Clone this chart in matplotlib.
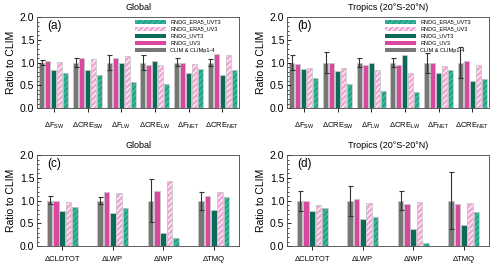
import matplotlib
matplotlib.use('Agg')
import matplotlib.pyplot as plt
from matplotlib.patches import Patch
from matplotlib.ticker import MultipleLocator
import numpy as np

plt.rcParams['font.family'] = ['Liberation Sans', 'DejaVu Sans']
plt.rcParams['mathtext.fontset'] = 'custom'
plt.rcParams['mathtext.rm'] = 'Liberation Sans'
plt.rcParams['hatch.linewidth'] = 0.8

# ---- data ----
labels_top = [r'$\Delta$F$_\mathrm{SW}$', r'$\Delta$CRE$_\mathrm{SW}$', r'$\Delta$F$_\mathrm{LW}$',
              r'$\Delta$CRE$_\mathrm{LW}$', r'$\Delta$F$_\mathrm{NET}$', r'$\Delta$CRE$_\mathrm{NET}$']
labels_bot = ['ΔCLDTOT', 'ΔLWP', 'ΔIWP', 'ΔTMQ']

# panel a (Global, fluxes)
a_clim = [1.0, 1.0, 1.0, 1.0, 1.0, 1.0]
a_hi = [1.06, 1.10, 1.17, 1.17, 1.10, 1.09]
a_lo = [0.95, 0.90, 0.83, 0.83, 0.92, 0.92]
a_uv3 = [1.03, 1.10, 1.10, 0.94, 1.00, 1.20]
a_uvt3 = [0.83, 0.84, 0.99, 1.03, 0.77, 0.72]
a_era_uv3 = [1.02, 1.09, 1.14, 0.94, 0.97, 1.17]
a_era_uvt3 = [0.78, 0.72, 0.57, 0.54, 0.86, 0.83]

# panel b (Tropics, fluxes)
b_clim = [1.0, 1.0, 1.0, 1.0, 1.0, 1.0]
b_hi = [1.17, 1.23, 1.10, 1.10, 1.22, 1.34]
b_lo = [0.83, 0.77, 0.90, 0.90, 0.78, 0.66]
b_uv3 = [0.97, 0.99, 0.94, 0.94, 0.99, 1.03]
b_uvt3 = [0.85, 0.82, 0.99, 1.17, 0.77, 0.60]
b_era_uv3 = [0.89, 0.88, 0.84, 0.78, 0.92, 0.94]
b_era_uvt3 = [0.67, 0.53, 0.37, 0.36, 0.84, 0.63]

# panel c (Global, cloud/water)
c_clim = [1.0, 1.0, 1.0, 1.0]
c_hi = [1.10, 1.09, 1.47, 1.20]
c_lo = [0.92, 0.92, 0.53, 0.80]
c_uv3 = [1.00, 1.19, 1.22, 1.10]
c_uvt3 = [0.77, 0.72, 0.30, 0.79]
c_era_uv3 = [0.96, 1.17, 1.43, 1.19]
c_era_uvt3 = [0.86, 0.83, 0.18, 1.07]

# panel d (Tropics, cloud/water)
d_clim = [1.0, 1.0, 1.0, 1.0]
d_hi = [1.22, 1.33, 1.21, 1.62]
d_lo = [0.78, 0.67, 0.79, 0.38]
d_uv3 = [0.99, 1.03, 0.92, 0.92]
d_uvt3 = [0.77, 0.60, 0.38, 0.46]
d_era_uv3 = [0.91, 0.94, 0.97, 0.94]
d_era_uvt3 = [0.84, 0.64, 0.08, 0.76]

c_grey = '#777777'
c_mag = '#d9479e'
c_green = '#0b6b58'
c_pink = '#f2a6d4'
c_teal = '#35b79c'
edge = '#c8c8c8'


def hbar(ax, x, h, w, face, hatch_col, hatch):
    ax.bar(x, h, w, color=face, edgecolor=hatch_col, hatch=hatch, linewidth=0)
    ax.bar(x, h, w, fill=False, edgecolor=edge, linewidth=0.6)


def panel(ax, labels, clim, hi, lo, uv3, uvt3, era_uv3, era_uvt3, title, tag, step, w, pad):
    x = np.arange(1, len(labels) + 1)
    ax.bar(x - 2 * step, clim, w, color=c_grey, edgecolor=edge, linewidth=0.6)
    err = [np.array(clim) - np.array(lo), np.array(hi) - np.array(clim)]
    ax.errorbar(x - 2 * step, clim, yerr=err, fmt='none', ecolor='#333333',
                elinewidth=0.8, capsize=1.8, capthick=0.8)
    ax.bar(x - step, uv3, w, color=c_mag, edgecolor=edge, linewidth=0.6)
    ax.bar(x, uvt3, w, color=c_green, edgecolor=edge, linewidth=0.6)
    hbar(ax, x + step, era_uv3, w, c_pink, 'white', '//////')
    hbar(ax, x + 2 * step, era_uvt3, w, c_teal, '#1f8f79', '//////')

    ax.set_xlim(0.5, len(labels) + 0.5)
    ax.set_ylim(0, 2.0)
    ax.set_xticks(x)
    ax.set_xticklabels(labels, fontsize=5.5)
    ax.set_yticks([0, 0.5, 1.0, 1.5, 2.0])
    ax.set_yticklabels(['0.0', '0.5', '1.0', '1.5', '2.0'], fontsize=7.5)
    ax.yaxis.set_minor_locator(MultipleLocator(0.1))
    ax.tick_params(axis='y', which='both', direction='in', left=True, right=False)
    ax.tick_params(axis='y', which='major', length=3, width=0.6, pad=2)
    ax.tick_params(axis='y', which='minor', length=1.5, width=0.5)
    ax.tick_params(axis='x', direction='out', length=3, width=0.6, pad=pad)
    ax.set_ylabel('Ratio to CLIM', fontsize=7.5, labelpad=3)
    ax.set_title(title, fontsize=6.5, pad=5)
    ax.text(0.05, 0.9, tag, transform=ax.transAxes, fontsize=8.5, ha='left', va='center')
    for s in ax.spines.values():
        s.set_linewidth(0.6)
        s.set_color('#444444')


fig = plt.figure(figsize=(5.0, 2.67), dpi=100)
ax_a = fig.add_axes([0.074, 0.595, 0.404, 0.341])
ax_b = fig.add_axes([0.574, 0.595, 0.404, 0.341])
ax_c = fig.add_axes([0.074, 0.078, 0.404, 0.341])
ax_d = fig.add_axes([0.574, 0.078, 0.404, 0.341])

panel(ax_a, labels_top, a_clim, a_hi, a_lo, a_uv3, a_uvt3, a_era_uv3, a_era_uvt3,
      'Global', '(a)', 0.178, 0.155, 6)
panel(ax_b, labels_top, b_clim, b_hi, b_lo, b_uv3, b_uvt3, b_era_uv3, b_era_uvt3,
      'Tropics (20°S-20°N)', '(b)', 0.178, 0.155, 6)
panel(ax_c, labels_bot, c_clim, c_hi, c_lo, c_uv3, c_uvt3, c_era_uv3, c_era_uvt3,
      'Global', '(c)', 0.125, 0.11, 4)
panel(ax_d, labels_bot, d_clim, d_hi, d_lo, d_uv3, d_uvt3, d_era_uv3, d_era_uvt3,
      'Tropics (20°S-20°N)', '(d)', 0.125, 0.11, 4)

handles = [
    Patch(facecolor=c_teal, edgecolor='#1f8f79', hatch='//////', linewidth=0),
    Patch(facecolor=c_pink, edgecolor='white', hatch='//////', linewidth=0),
    Patch(facecolor=c_green, linewidth=0),
    Patch(facecolor=c_mag, linewidth=0),
    Patch(facecolor=c_grey, linewidth=0),
]
names = ['RNDG_ERA5_UVT3', 'RNDG_ERA5_UV3', 'RNDG_UVT3', 'RNDG_UV3', 'CLIM & CLIMp1-4']
for ax in (ax_a, ax_b):
    ax.legend(handles, names, loc='upper left', bbox_to_anchor=(0.47, 1.01), frameon=False,
              fontsize=4, handlelength=5.5, handleheight=0.8, labelspacing=0.35,
              handletextpad=0.8, borderaxespad=0.2)

fig.savefig('out.png', dpi=100)
